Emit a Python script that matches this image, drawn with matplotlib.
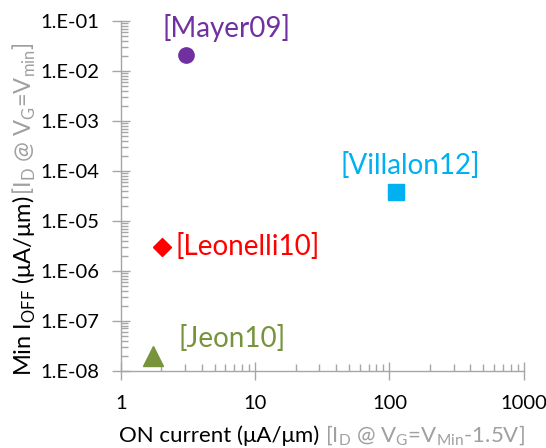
import matplotlib
matplotlib.use("Agg")
import matplotlib.pyplot as plt
import numpy as np
from matplotlib.ticker import FixedLocator, FixedFormatter, NullFormatter

plt.rcParams['font.family'] = ['Lato', 'DejaVu Sans']

# Data
names = ["[Mayer09]", "[Villalon12]", "[Leonelli10]", "[Jeon10]"]
on_current = [3.05, 112, 2.01, 1.74]
off_current = [2.1e-2, 3.8e-5, 3.0e-6, 2.0e-8]
markers = ["o", "s", "D", "^"]
colors = ["#7030A0", "#00B0F0", "#FF0000", "#77933C"]
msizes = [11, 11, 9, 14]
# label positions (data coords)
label_pos = [(2.05, 7.2e-2), (43, 1.31e-4), (2.55, 3.13e-6), (2.7, 4.5e-8)]

xticks = [1, 10, 100, 1000]
xticklabels = ["1", "10", "100", "1000"]
yticks = [1e-8, 1e-7, 1e-6, 1e-5, 1e-4, 1e-3, 1e-2, 1e-1]
yticklabels = ["1.E-08", "1.E-07", "1.E-06", "1.E-05", "1.E-04", "1.E-03", "1.E-02", "1.E-01"]

W, H = 546, 448
fig = plt.figure(figsize=(W / 100, H / 100), dpi=100)
ax = fig.add_axes([121 / W, 1 - 370.7 / H, (523.7 - 121) / W, (370.7 - 21) / H])
ax.set_xscale("log")
ax.set_yscale("log")
ax.set_xlim(1, 1000)
ax.set_ylim(1e-8, 1e-1)

axis_gray = "#A6A6A6"
for s in ["top", "right"]:
    ax.spines[s].set_visible(False)
for s in ["left", "bottom"]:
    ax.spines[s].set_color(axis_gray)
    ax.spines[s].set_linewidth(1.0)

ax.xaxis.set_major_locator(FixedLocator(xticks))
ax.xaxis.set_major_formatter(FixedFormatter(xticklabels))
ax.yaxis.set_major_locator(FixedLocator(yticks))
ax.yaxis.set_major_formatter(FixedFormatter(yticklabels))
ax.xaxis.set_minor_formatter(NullFormatter())
ax.yaxis.set_minor_formatter(NullFormatter())
ax.yaxis.set_minor_locator(matplotlib.ticker.LogLocator(base=10, subs=np.arange(2, 10), numticks=20))
ax.xaxis.set_minor_locator(matplotlib.ticker.LogLocator(base=10, subs=np.arange(2, 10), numticks=20))

ax.tick_params(which="major", direction="inout", length=13, width=1, color=axis_gray,
               labelsize=14.5, labelcolor="black")
ax.tick_params(which="minor", direction="in", length=5, width=1, color=axis_gray)
ax.tick_params(axis="x", which="major", pad=11)
ax.tick_params(axis="y", which="major", pad=9)

for x, y, m, c, ms in zip(on_current, off_current, markers, colors, msizes):
    ax.plot([x], [y], marker=m, color=c, markersize=ms, linestyle="none", clip_on=False)

for (lx, ly), n, c in zip(label_pos, names, colors):
    ax.text(lx, ly, n, color=c, fontsize=20, ha="left", va="center")

label_gray = "#A0A0A0"
fs = 16

# x label: two colour parts, centred
renderer = fig.canvas.get_renderer()
x_black = "ON current (μA/μm) "
x_gray = r"[I$_\mathregular{D}$ @ V$_\mathregular{G}$=V$_\mathregular{Min}$-1.5V]"
t1 = fig.text(0, 0, x_black, fontsize=fs, color="black", ha="left", va="center")
t2 = fig.text(0, 0, x_gray, fontsize=fs, color=label_gray, ha="left", va="center")
w1 = t1.get_window_extent(renderer).width
w2 = t2.get_window_extent(renderer).width
cx = 322
start = cx - (w1 + w2) / 2
t1.set_position((start / W, 1 - 436 / H))
t2.set_position(((start + w1) / W, 1 - 436 / H))

# y label: rotated, two parts
fsy = 17
y_black = r"Min I$_\mathregular{OFF}$ (μA/μm) "
y_gray = r"[I$_\mathregular{D}$ @ V$_\mathregular{G}$=V$_\mathregular{min}$]"
s1 = fig.text(0, 0, y_black, fontsize=fsy, color="black", rotation=90,
              rotation_mode="anchor", ha="left", va="center")
s2 = fig.text(0, 0, y_gray, fontsize=fsy, color=label_gray, rotation=90,
              rotation_mode="anchor", ha="left", va="center")
h1 = s1.get_window_extent(renderer).height
h2 = s2.get_window_extent(renderer).height
cy = 209
ystart = cy + (h1 + h2) / 2  # pixel from top
xl = 24
s1.set_position((xl / W, 1 - ystart / H))
s2.set_position((xl / W, 1 - (ystart - h1) / H))

fig.savefig("out.png", dpi=100)
